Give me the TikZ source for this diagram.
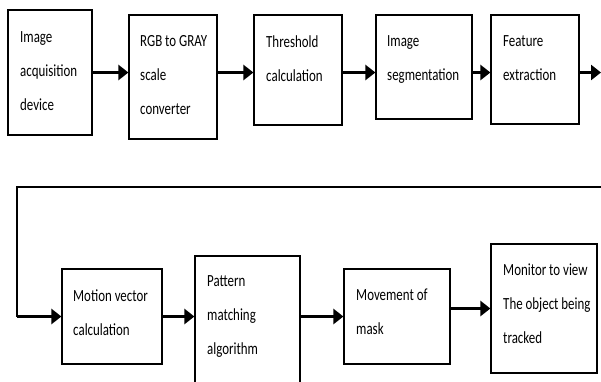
\documentclass[tikz,border=0pt]{standalone}
\usepackage{fontspec}
\setmainfont{Carlito}[FakeStretch=0.76]
\usetikzlibrary{arrows.meta}
\tikzset{
  blk/.style={draw, line width=1.2pt, inner sep=0pt},
  txt/.style={anchor=north west, inner sep=0pt, align=left,
    font=\fontsize{17}{34}\selectfont},
  flow/.style={line width=3pt, -{Triangle[length=10pt,width=15pt]}},
}
\begin{document}
\begin{tikzpicture}[x=1pt,y=-1pt]
\useasboundingbox (0,0) rectangle (601,381);
% first row
\node[blk, minimum width=84pt, minimum height=125pt] (acq) at (50,72.5) {};
\node[blk, minimum width=88pt, minimum height=124pt] (rgb) at (173,77) {};
\node[blk, minimum width=88pt, minimum height=110pt] (thr) at (298,70) {};
\node[blk, minimum width=96pt, minimum height=104pt] (seg) at (424,67) {};
\node[blk, minimum width=88pt, minimum height=109pt] (fea) at (535,69.5) {};
\draw (20,31.2) node[txt] (acqt) {Image\\acquisition\\device};
\draw (140,35.2) node[txt] (rgbt) {RGB to GRAY\\scale\\converter};
\draw (266,35.2) node[txt] (thrt) {Threshold\\calculation};
\draw (387,35.2) node[txt] (segt) {Image\\segmentation};
\draw (503,35.2) node[txt] (feat) {Feature\\extraction};
% second row
\node[blk, minimum width=100pt, minimum height=95pt] (mot) at (112,316.5) {};
\node[blk, minimum width=105pt, minimum height=154pt] (pat) at (247.5,333) {};
\node[blk, minimum width=106pt, minimum height=95pt] (mov) at (397,316.5) {};
\node[blk, minimum width=106pt, minimum height=129pt] (mon) at (544,308.5) {};
\draw (73,289.2) node[txt] (mott) {Motion vector\\calculation};
\draw (207,275.2) node[txt] (patt) {Pattern\\matching\\algorithm};
\draw (356,288.2) node[txt] (movt) {Movement of\\mask};
\draw (503,263.2) node[txt] (mont) {Monitor to view\\The object being\\tracked};
% connectors
\coordinate (out) at (601,72.5);
\coordinate (back) at (601,187);
\coordinate (turn) at (17,187);
\coordinate (in) at (17,316.5);
\draw[flow] (acq.east) -- (acq.east -| rgb.west);
\draw[flow] (rgb.east |- acq.east) -- (thr.west |- acq.east);
\draw[flow] (thr.east |- acq.east) -- (seg.west |- acq.east);
\draw[flow] (seg.east |- acq.east) -- (fea.west |- acq.east);
\draw[flow] (fea.east |- acq.east) -- (out);
\draw[line width=1.3pt] (back) -- (turn) -- (in);
\draw[flow] (in) -- (mot.west);
\draw[flow] (mot.east) -- (mot.east -| pat.west);
\draw[flow] (mov.west -| pat.east) -- (mov.west);
\draw[flow] (mov.east |- mon.west) -- (mon.west);
\end{tikzpicture}
\end{document}
